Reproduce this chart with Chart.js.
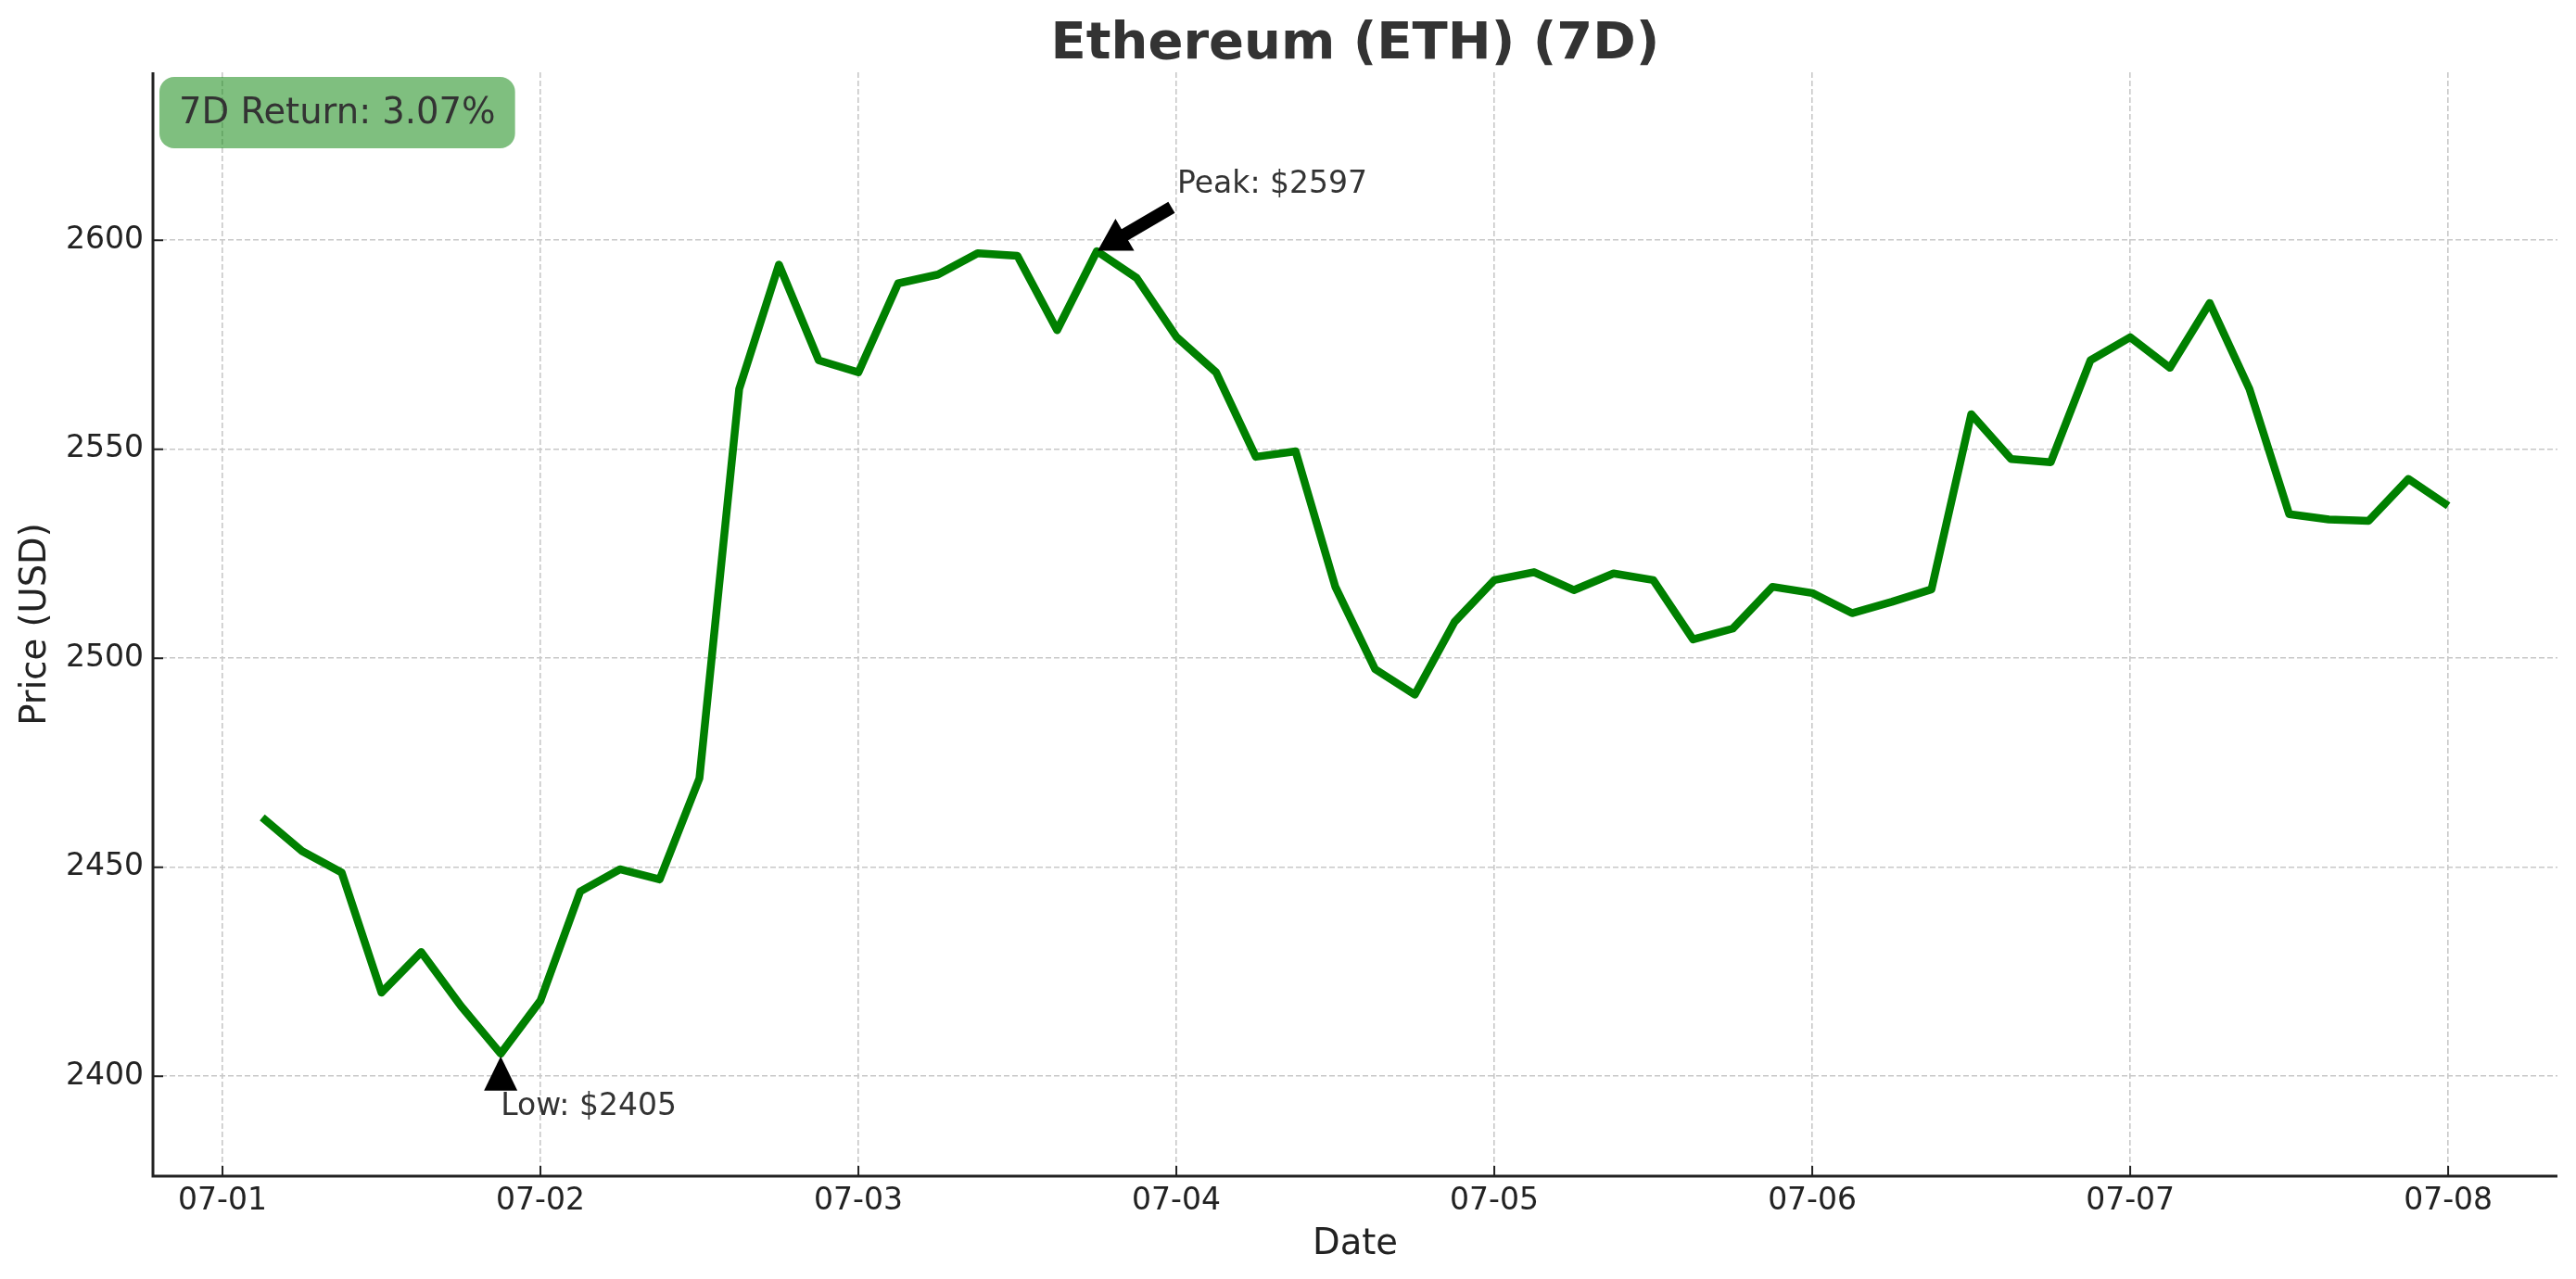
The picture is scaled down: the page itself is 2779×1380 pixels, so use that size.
<!DOCTYPE html>
<html>
<head>
<meta charset="utf-8">
<script src="https://cdn.jsdelivr.net/npm/chart.js@4/dist/chart.umd.min.js"></script>
<style>
  html, body { margin: 0; padding: 0; background: #fff; }
  #wrap { width: 2779px; height: 1380px; }
</style>
</head>
<body>
<div id="wrap"><canvas id="chartjs" width="2779" height="1380"></canvas></div>
<script>
// 3-hourly closes, 07-01 03:00 .. 07-08 00:00
const times = [
  "07-01 03:00", "07-01 06:00", "07-01 09:00", "07-01 12:00", "07-01 15:00", "07-01 18:00", "07-01 21:00",
  "07-02 00:00", "07-02 03:00", "07-02 06:00", "07-02 09:00", "07-02 12:00", "07-02 15:00", "07-02 18:00", "07-02 21:00",
  "07-03 00:00", "07-03 03:00", "07-03 06:00", "07-03 09:00", "07-03 12:00", "07-03 15:00", "07-03 18:00", "07-03 21:00",
  "07-04 00:00", "07-04 03:00", "07-04 06:00", "07-04 09:00", "07-04 12:00", "07-04 15:00", "07-04 18:00", "07-04 21:00",
  "07-05 00:00", "07-05 03:00", "07-05 06:00", "07-05 09:00", "07-05 12:00", "07-05 15:00", "07-05 18:00", "07-05 21:00",
  "07-06 00:00", "07-06 03:00", "07-06 06:00", "07-06 09:00", "07-06 12:00", "07-06 15:00", "07-06 18:00", "07-06 21:00",
  "07-07 00:00", "07-07 03:00", "07-07 06:00", "07-07 09:00", "07-07 12:00", "07-07 15:00", "07-07 18:00", "07-07 21:00",
  "07-08 00:00"
];
const prices = [
  2461.9, 2453.9, 2448.7, 2420.0, 2429.7, 2416.8, 2405.4,
  2418.1, 2444.2, 2449.5, 2447.1, 2471.3, 2564.4, 2594.2, 2571.3,
  2568.4, 2589.7, 2591.8, 2596.9, 2596.3, 2578.5, 2597.4, 2591.0,
  2576.9, 2568.4, 2548.2, 2549.5, 2517.1, 2497.4, 2491.3, 2508.7,
  2518.7, 2520.6, 2516.3, 2520.3, 2518.7, 2504.5, 2507.1, 2517.1,
  2515.6, 2510.8, 2513.5, 2516.5, 2558.4, 2547.7, 2546.9, 2571.3,
  2576.8, 2569.5, 2585.0, 2564.4, 2534.5, 2533.2, 2532.9, 2542.9,
  2536.5
];
const xTickLabels = ["07-01", "07-02", "07-03", "07-04", "07-05", "07-06", "07-07", "07-08"];
const yTicks = [2400, 2450, 2500, 2550, 2600];
const titleText = "Ethereum (ETH) (7D)";
const returnText = "7D Return: 3.07%";

// hours since 07-01 00:00
const toHours = (s) => {
  const day = parseInt(s.slice(3, 5), 10) - 1;
  const hr = parseInt(s.slice(6, 8), 10);
  return day * 24 + hr;
};
const hours = times.map(toHours);
const xTickHours = xTickLabels.map((l) => toHours(l + " 00:00"));

const points = hours.map((h, i) => ({ x: h, y: prices[i] }));
const maxVal = Math.max(...prices);
const minVal = Math.min(...prices);
const peakIdx = prices.indexOf(maxVal);
const lowIdx = prices.indexOf(minVal);

const FONT = '"DejaVu Sans", "Noto Sans", sans-serif';

const decor = {
  id: 'decor',
  afterDraw(chart) {
    const { ctx, chartArea: a, scales: { x, y } } = chart;
    ctx.save();

    // title
    ctx.fillStyle = '#333';
    ctx.font = 'bold 56px ' + FONT;
    ctx.textAlign = 'center';
    ctx.textBaseline = 'middle';
    ctx.fillText(titleText, (a.left + a.right) / 2, 48);

    // spines
    ctx.strokeStyle = '#222';
    ctx.lineWidth = 3;
    ctx.beginPath();
    ctx.moveTo(a.left, a.top);
    ctx.lineTo(a.left, a.bottom);
    ctx.lineTo(a.right, a.bottom);
    ctx.stroke();

    // inward ticks
    ctx.lineWidth = 2;
    ctx.beginPath();
    xTickHours.forEach((h) => {
      const px = x.getPixelForValue(h);
      ctx.moveTo(px, a.bottom);
      ctx.lineTo(px, a.bottom - 11);
    });
    yTicks.forEach((v) => {
      const py = y.getPixelForValue(v);
      ctx.moveTo(a.left, py);
      ctx.lineTo(a.left + 11, py);
    });
    ctx.stroke();

    // return box
    ctx.font = '38.5px ' + FONT;
    const tw = ctx.measureText(returnText).width;
    const bx = a.left + 7, by = a.top + 5, bw = tw + 42, bh = 77;
    ctx.fillStyle = 'rgba(0,128,0,0.5)';
    ctx.beginPath();
    ctx.roundRect(bx, by, bw, bh, 16);
    ctx.fill();
    ctx.fillStyle = '#333';
    ctx.textAlign = 'left';
    ctx.textBaseline = 'middle';
    ctx.fillText(returnText, bx + 21, by + bh / 2 + 1);

    // peak annotation
    const px = x.getPixelForValue(hours[peakIdx]);
    const py = y.getPixelForValue(maxVal);
    const tx = x.getPixelForValue(hours[peakIdx] + 6);
    const ty = y.getPixelForValue(maxVal + 14);
    ctx.font = '33px ' + FONT;
    ctx.fillStyle = '#333';
    ctx.textBaseline = 'alphabetic';
    ctx.fillText('Peak: $' + Math.round(maxVal), tx + 1, ty);

    const sx = tx - 0.06 * (tx - px), sy = ty + 12 - 0.06 * (ty - py);
    const ex = px + 0.01 * (tx - px), ey = py + 0.01 * (ty - py);
    const ang = Math.atan2(ey - sy, ex - sx);
    const len = Math.hypot(ex - sx, ey - sy);
    const hw = 7, headW = 20, headL = 34;
    ctx.save();
    ctx.translate(sx, sy);
    ctx.rotate(ang);
    ctx.fillStyle = '#000';
    ctx.beginPath();
    ctx.moveTo(0, -hw);
    ctx.lineTo(len - headL, -hw);
    ctx.lineTo(len - headL, -headW);
    ctx.lineTo(len, 0);
    ctx.lineTo(len - headL, headW);
    ctx.lineTo(len - headL, hw);
    ctx.lineTo(0, hw);
    ctx.closePath();
    ctx.fill();
    ctx.restore();

    // low annotation
    const lx = x.getPixelForValue(hours[lowIdx]);
    const ly = y.getPixelForValue(minVal);
    ctx.fillStyle = '#000';
    ctx.beginPath();
    ctx.moveTo(lx, ly + 3);
    ctx.lineTo(lx + 18, ly + 40);
    ctx.lineTo(lx - 18, ly + 40);
    ctx.closePath();
    ctx.fill();
    ctx.fillStyle = '#333';
    ctx.textAlign = 'left';
    ctx.textBaseline = 'alphabetic';
    ctx.fillText('Low: $' + Math.round(minVal), lx, y.getPixelForValue(minVal - 14.6));

    ctx.restore();
  }
};

const productNode = document.getElementById('chartjs').getContext('2d');
const priceChart = new Chart(productNode, {
  type: 'line',
  data: {
    datasets: [{
      label: 'ETH',
      data: points,
      borderColor: '#008000',
      borderWidth: 8.5,
      pointRadius: 0,
      tension: 0,
      fill: false,
      borderJoinStyle: 'round',
      borderCapStyle: 'butt'
    }]
  },
  options: {
    responsive: false,
    animation: false,
    devicePixelRatio: 1,
    layout: { padding: { top: 78, right: 20, bottom: 0, left: 0 } },
    plugins: {
      legend: { display: false },
      tooltip: { enabled: false },
      title: { display: false }
    },
    scales: {
      x: {
        type: 'linear',
        min: -5.25,
        max: 176.25,
        afterBuildTicks: (scale) => { scale.ticks = xTickHours.map((v) => ({ value: v })); },
        afterFit: (scale) => { scale.height = 111; },
        ticks: {
          autoSkip: false,
          maxRotation: 0,
          padding: 8,
          color: '#222',
          font: { family: FONT, size: 33 },
          callback: (v) => xTickLabels[xTickHours.indexOf(v)] || ''
        },
        grid: { color: '#c8c8c8', lineWidth: 1.6, drawTicks: false },
        border: { display: false, dash: [6, 3] },
        title: {
          display: true,
          text: 'Date',
          color: '#222',
          font: { family: FONT, size: 38.5 },
          padding: { top: 0, bottom: 14 }
        }
      },
      y: {
        min: 2376.1,
        max: 2640.2,
        afterBuildTicks: (scale) => { scale.ticks = yTicks.map((v) => ({ value: v })); },
        afterFit: (scale) => { scale.width = 165; },
        ticks: {
          padding: 10,
          color: '#222',
          font: { family: FONT, size: 33 },
          callback: (v) => String(v)
        },
        grid: { color: '#c8c8c8', lineWidth: 1.6, drawTicks: false },
        border: { display: false, dash: [6, 3] },
        title: {
          display: true,
          text: 'Price (USD)',
          color: '#222',
          font: { family: FONT, size: 38.5 },
          padding: { top: 16, bottom: 0 }
        }
      }
    }
  },
  plugins: [decor]
});
</script>
</body>
</html>
